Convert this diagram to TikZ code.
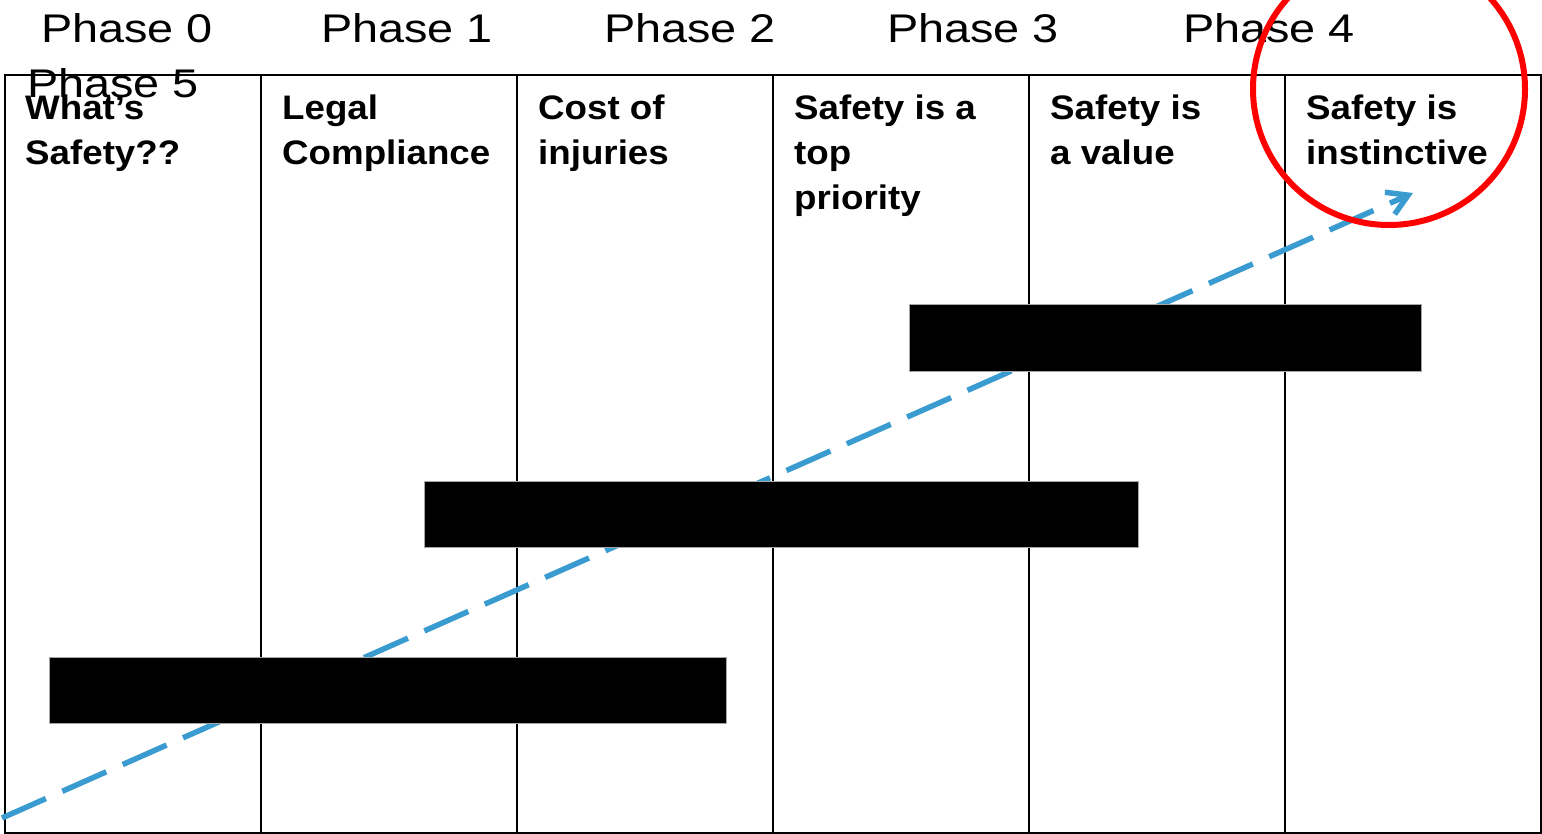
\documentclass[tikz,border=0pt]{standalone}
\usepackage{fontspec}
\setmainfont{Liberation Sans}
\newfontfamily\phasefont[FakeStretch=1.17]{Liberation Sans}
\newfontfamily\cellfont[FakeStretch=1.08]{Liberation Sans}
\usetikzlibrary{arrows.meta}
\definecolor{trendblue}{HTML}{3A9BD0}

\begin{document}
\begin{tikzpicture}[
  x=1pt, y=-1pt,
  phase/.style={anchor=base west, inner sep=0pt,
                font=\phasefont\fontsize{40}{48}\selectfont},
  % base of a multi-line node is its last line
  cell/.style={anchor=base west, inner sep=0pt, align=left,
               font=\cellfont\bfseries\fontsize{34}{45}\selectfont},
  grid/.style={draw, line width=2pt},
  bar/.style={anchor=north west, fill=black, draw=gray!70, line width=1pt,
              inner sep=0pt},
  arr/.style={-{Straight Barb[length=20pt, width=24pt]}, trendblue,
              line width=5.5pt, dash pattern=on 48pt off 18pt},
]
\useasboundingbox (0,0) rectangle (1542,834);

%% table frame and column rules
\draw[grid] (5,75) rectangle (1541,833);
\foreach \x in {261,517,773,1029,1285}
  \draw[grid] (\x,75) -- (\x,833);

%% rising trend, partly hidden by the bars
\coordinate (start) at (2,818);
\coordinate (tip)   at (1413,193);
\draw[arr] (start) -- (tip);

\node[bar, minimum width=677pt, minimum height=66pt] (bar1) at (49,657)  {};
\node[bar, minimum width=714pt, minimum height=66pt] (bar2) at (424,481) {};
\node[bar, minimum width=512pt, minimum height=67pt] (bar3) at (909,304) {};

%% phase labels
\node[phase] (ph0) at (41,43)   {Phase 0};
\node[phase] (ph1) at (321,43)  {Phase 1};
\node[phase] (ph2) at (604,43)  {Phase 2};
\node[phase] (ph3) at (887,43)  {Phase 3};
\node[phase] (ph4) at (1183,43) {Phase 4};
\node[phase] (ph5) at (27,98)   {Phase 5};

%% column headings
\node[cell] (c0) at (25,165)   {What’s\\Safety??};
\node[cell] (c1) at (282,165)  {Legal\\Compliance};
\node[cell] (c2) at (538,165)  {Cost of\\injuries};
\node[cell] (c3) at (794,210)  {Safety is a\\top\\priority};
\node[cell] (c4) at (1050,165) {Safety is\\a value};
\node[cell] (c5) at (1306,165) {Safety is\\instinctive};

\node[draw=red, line width=6pt, circle, minimum size=272pt, inner sep=0pt]
  (goal) at (1389,89) {};
\end{tikzpicture}
\end{document}
